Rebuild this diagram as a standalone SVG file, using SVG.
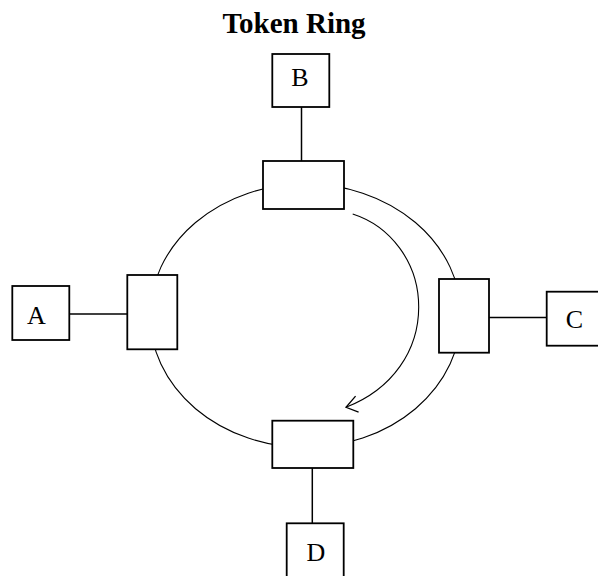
<svg xmlns="http://www.w3.org/2000/svg" width="598" height="576" viewBox="0 0 598 576">
  <style>
    .box { fill: #fff; stroke: #000; stroke-width: 1.8; }
    .wire { fill: none; stroke: #000; stroke-width: 1.5; }
    .ring { fill: none; stroke: #000; stroke-width: 1.1; }
    .lbl { font-family: "Liberation Serif", "Times New Roman", serif; font-size: 26px; text-anchor: middle; fill: #000; }
    .title { font-family: "Liberation Serif", "Times New Roman", serif; font-weight: bold; font-size: 29px; text-anchor: middle; fill: #000; }
  </style>
  <defs>
    <marker id="open-arrow" markerUnits="userSpaceOnUse" viewBox="-15 -10 20 20" markerWidth="20" markerHeight="20" refX="0" refY="0" orient="auto">
      <path d="M-10,-9 L0,0 L-13,7" fill="none" stroke="#000" stroke-width="1.3"/>
    </marker>
  </defs>

  <text class="title" x="294" y="32.5">Token Ring</text>

  <!-- ring cable, drops and token direction -->
  <g id="connectors">
    <ellipse class="ring" cx="305.5" cy="315.6" rx="155.5" ry="131.7"/>
    <line class="wire" x1="301.5" y1="107" x2="301.5" y2="161"/>
    <line class="wire" x1="69" y1="314" x2="127" y2="314"/>
    <line class="wire" x1="489" y1="317.5" x2="547" y2="317.5"/>
    <line class="wire" x1="312.3" y1="468" x2="312.3" y2="523"/>
    <path class="ring" d="M352.7,214 C390,226 418.7,262 418.7,307 C418.7,350 393,389 346,407.3" marker-end="url(#open-arrow)"/>
  </g>

  <!-- ring access units -->
  <g id="mau-top"><rect class="box" x="263" y="161" width="81" height="48"/></g>
  <g id="mau-left"><rect class="box" x="127.3" y="275" width="50" height="74.3"/></g>
  <g id="mau-right"><rect class="box" x="439" y="279" width="50" height="73.7"/></g>
  <g id="mau-bottom"><rect class="box" x="272.3" y="420.7" width="81" height="47.3"/></g>

  <!-- stations -->
  <g id="node-b">
    <rect class="box" x="272.3" y="54" width="57" height="53"/>
    <text class="lbl" x="300" y="85.7">B</text>
  </g>
  <g id="node-a">
    <rect class="box" x="12.3" y="286" width="57" height="54"/>
    <text class="lbl" x="36.5" y="324">A</text>
  </g>
  <g id="node-c">
    <rect class="box" x="546.7" y="291.7" width="53" height="54"/>
    <text class="lbl" x="574.5" y="328.3">C</text>
  </g>
  <g id="node-d">
    <rect class="box" x="286.7" y="523.3" width="57" height="60"/>
    <text class="lbl" x="316" y="560.7">D</text>
  </g>
</svg>
